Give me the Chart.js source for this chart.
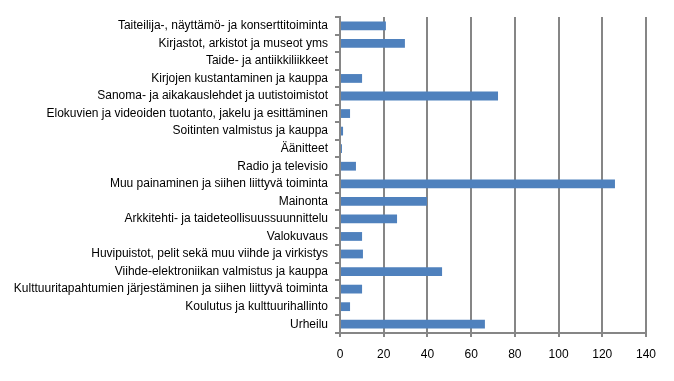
<!DOCTYPE html>
<html>
<head>
<meta charset="utf-8">
<script src="https://cdn.jsdelivr.net/npm/chart.js@4/dist/chart.umd.min.js"></script>
<style>
  body { margin: 0; background: #fff; }
  #wrap { width: 674px; height: 381px; }
</style>
</head>
<body>
<div id="wrap"><canvas id="chart" width="674" height="381"></canvas></div>
<script>
const categories = [
    "Taiteilija-, näyttämö- ja konserttitoiminta",
    "Kirjastot, arkistot ja museot yms",
    "Taide- ja antiikkiliikkeet",
    "Kirjojen kustantaminen ja kauppa",
    "Sanoma- ja aikakauslehdet ja uutistoimistot",
    "Elokuvien ja videoiden tuotanto, jakelu ja esittäminen",
    "Soitinten valmistus ja kauppa",
    "Äänitteet",
    "Radio ja televisio",
    "Muu painaminen ja siihen liittyvä toiminta",
    "Mainonta",
    "Arkkitehti- ja taideteollisuussuunnittelu",
    "Valokuvaus",
    "Huvipuistot, pelit sekä muu viihde ja virkistys",
    "Viihde-elektroniikan valmistus ja kauppa",
    "Kulttuuritapahtumien järjestäminen ja siihen liittyvä toiminta",
    "Koulutus ja kulttuurihallinto",
    "Urheilu"
];
const values = [21, 29.7, 0, 10.1, 72.3, 4.6, 1.4, 0.9, 7.3, 125.8, 39.8, 26.1, 10.1, 10.5, 46.7, 10.1, 4.6, 66.3];
const xMin = 0, xMax = 140, xStep = 20;

const gridColor = '#868686';

new Chart(document.getElementById('chart'), {
    type: 'bar',
    data: {
        labels: categories,
        datasets: [{
            data: values,
            backgroundColor: '#4F81BD',
            categoryPercentage: 1,
            barPercentage: 0.5
        }]
    },
    options: {
        responsive: false,
        animation: false,
        indexAxis: 'y',
        layout: { padding: { top: 17, right: 28, left: 0, bottom: 0 } },
        plugins: { legend: { display: false }, tooltip: { enabled: false } },
        scales: {
            y: {
                offset: true,
                grid: { offset: true, drawOnChartArea: false, tickLength: 5, color: gridColor, lineWidth: 2 },
                border: { color: gridColor, width: 2 },
                ticks: { color: '#000', padding: 7, font: { family: 'Liberation Sans', size: 12 } },
                afterFit: s => { s.width = 340; }
            },
            x: {
                min: xMin,
                max: xMax,
                ticks: { stepSize: xStep, color: '#000', padding: 10, font: { family: 'Liberation Sans', size: 12 } },
                grid: { color: gridColor, lineWidth: 2, tickLength: 4 },
                border: { color: gridColor, width: 2 },
                afterFit: s => { s.height = 48; }
            }
        }
    }
});
</script>
</body>
</html>
